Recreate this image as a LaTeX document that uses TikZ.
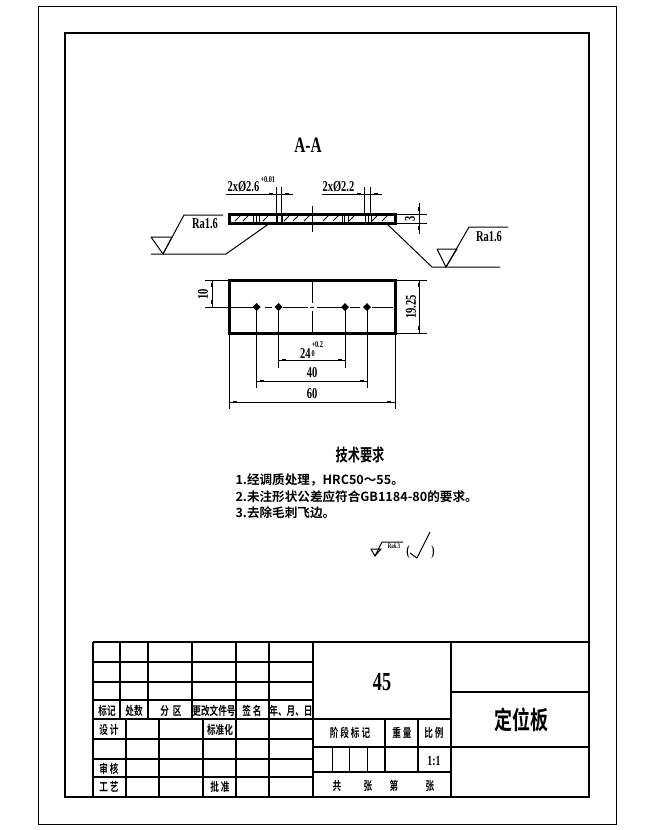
\documentclass[tikz,border=0pt]{standalone}
\usepackage{fontspec}
\usetikzlibrary{
  positioning,
}
\newfontfamily\cjkfont[FakeStretch=0.72,BoldFont={Noto Sans CJK SC Bold}]{Noto Sans CJK SC}
\newfontfamily\notefont[BoldFont={Noto Sans CJK SC Bold}]{Noto Sans CJK SC}
\newfontfamily\cadfont[FakeStretch=0.7]{Liberation Serif}
\newcommand{\cjksize} [1]{\fontsize{#1}{#1}\selectfont\cjkfont\bfseries}
\newcommand{\notesize}[1]{\fontsize{#1}{#1}\selectfont\notefont\bfseries}
\newcommand{\cadsize} [1]{\fontsize{#1}{#1}\selectfont\cadfont\bfseries}
% Small filled ticks on the dimension lines
\newcommand{\htick} [2]{\fill (#1,#2) +(-2,-1.2) rectangle +(2,1.2);}
\newcommand{\vtick} [2]{\fill (#1,#2) +(-1.2,-2) rectangle +(1.2,2);}
\def\mythin{1pt}
\def\mymid{1.5pt}
\def\myheavy{3pt}
\tikzset{
  line cap=rect,
  cad/.style={
    inner sep=0pt,
    font=\cadsize{15}
  },
  cad small/.style={
    inner sep=0pt,
    font=\cadsize{9}
  },
  cad up/.style={
    cad,
    rotate=90
  },
  label cn/.style={
    inner sep=0pt,
    font=\cjksize{12}
  },
  note cn/.style={
    inner sep=0pt,
    anchor=west,
    font=\notesize{12.6}
  },
  plate edge/.style={
    line width=\myheavy
  },
  grid mid/.style={
    line width=\mymid
  },
  hatch/.style={
    line width=0.8pt
  }
}
\begin{document}
\begin{tikzpicture}[x=1pt,y=-1pt,line width=\mythin]
\useasboundingbox (0,0) rectangle (654,830);
% Sheet frames
\draw (38.5,6) rectangle (616.5,824);
\draw[line width=2pt] (65,33) rectangle (589,797);

% Section A-A
\node[cad,font=\cadsize{22}] (title_section) at (308,145) {A-A};
\draw[plate edge] (229,214) rectangle (395,223);
\foreach \hx in {235,243,263,284,293,304,323,333,349,372,382}
  \draw[hatch] (\hx,221) -- (\hx+5,216);
\foreach \hx in {253.5,256.5,259,342,344,348,365,368,371}
  \draw (\hx,214) -- (\hx,223);
\draw[line width=1.6pt] (276.7,214) -- (276.7,223);
\draw[line width=1.6pt] (281.7,214) -- (281.7,223);
\draw (312.3,206) -- (312.3,232);
% Hole callouts
\draw (226,194) -- (293,194);
\draw (276.7,187) -- (276.7,214);
\draw (281.7,187) -- (281.7,214);
\htick{271}{194} \htick{287}{194}
\node[cad,anchor=south west] (hole_a) at (227,192) {2x\char"00D8 2.6};
\node[cad small,anchor=south west] (hole_a_tol) at (260,183) {+0.01};
\draw (322,194) -- (382,194);
\draw (364.5,187) -- (364.5,214);
\draw (370.5,187) -- (370.5,214);
\htick{359}{194} \htick{376}{194}
\node[cad,anchor=south west] (hole_b) at (322,192) {2x\char"00D8 2.2};
% Thickness
\draw (395,214) -- (427,214);
\draw (395,223) -- (427,223);
\draw (419,203) -- (419,234);
\vtick{419}{209} \vtick{419}{228}
\node[cad up] (dim_three) at (410,218.5) {3};
% Roughness marks
\draw (151,237) -- (172,237) -- (163,254) -- (151,237);
\draw (163,254) -- (184,215) -- (223,215);
\draw (151,254) -- (226,254) -- (270,223);
\node[cad] (rough_left) at (205,224) {Ra1.6};
\draw (437,249) -- (457,249) -- (446,267) -- (437,249);
\draw (446,267) -- (469,227) -- (508,227);
\draw (500,267) -- (432,267) -- (386,223);
\node[cad] (rough_right) at (489,237) {Ra1.6};

% Plan view
\draw[plate edge] (229,280) rectangle (395,333);
\draw (312,280) -- (312,303);
\draw (312,311) -- (312,333);
\draw (205,307) -- (253,307);
\draw (265,307) -- (272,307);
\draw (283,307) -- (308,307);
\draw (310,307) -- (314,307);
\draw (317,307) -- (342,307);
\draw (350,307) -- (360,307);
\draw (372,307) -- (393,307);
\foreach \hx in {256.7,278.7,345,367}
  \fill (\hx,303) -- (\hx+4,307) -- (\hx,311) -- (\hx-4,307) -- cycle;
% Dimensions of the plan view
\draw (205,280) -- (229,280);
\draw (212,280) -- (212,307);
\vtick{212}{285} \vtick{212}{302}
\node[cad up] (dim_ten) at (203,294) {10};
\draw (395,280) -- (427,280);
\draw (395,333) -- (427,333);
\draw (419,280) -- (419,333);
\vtick{419}{285} \vtick{419}{328}
\node[cad up] (dim_height) at (411,307) {19.25};
\draw (278.7,307) -- (278.7,368);
\draw (345,307) -- (345,368);
\draw (278.7,360) -- (345,360);
\htick{284}{360} \htick{340}{360}
\node[cad,anchor=south east] (dim_inner) at (311,359) {24};
\node[cad small,anchor=west] (dim_inner_up) at (311,345) {+0.2};
\node[cad small,anchor=west] (dim_inner_low) at (311,353.5) {0};
\draw (256.7,307) -- (256.7,388);
\draw (367,307) -- (367,388);
\draw (256.7,381) -- (367,381);
\htick{262}{381} \htick{362}{381}
\node[cad] (dim_forty) at (312,373) {40};
\draw (229,333) -- (229,409);
\draw (395,333) -- (395,409);
\draw (229,402) -- (395,402);
\htick{235}{402} \htick{389}{402}
\node[cad] (dim_sixty) at (312,394) {60};

% Notes
\node[label cn,font=\cjksize{17}] (note_title) at (360,455) {技术要求};
\node[note cn] (note_one) at (235,480) {1.经调质处理，HRC50\char"FF5E 55。};
\node[note cn] (note_two) at (235,496.5) {2.未注形状公差应符合GB1184-80的要求。};
\node[note cn] (note_three) at (235,513) {3.去除毛刺飞边。};
% Surface symbol
\draw (371,549) -- (381,549) -- (375,556) -- cycle;
\draw (375,556) -- (382,542) -- (403,542);
\node[inner sep=0pt,font=\cadsize{7}] (rough_small) at (394,546) {Ra6.3};
\node[cad,font=\cadsize{14}] (paren_left) at (408,552) {(};
\draw (410,553) -- (417,558) -- (430,532);
\node[cad,font=\cadsize{14}] (paren_right) at (433,552) {)};

% Title block, left part
\draw[grid mid] (93,642) -- (589,642);
\draw[grid mid] (93,642) -- (93,797);
\foreach \ry in {662,682,759,777}
  \draw[line width=1.2pt] (93,\ry) -- (313,\ry);
\foreach \ry in {700,719,739}
  \draw[grid mid] (93,\ry) -- (313,\ry);
\foreach \cx in {120,148,192}
  \draw[grid mid] (\cx,642) -- (\cx,719);
\foreach \cx in {126,159,203}
  \draw[grid mid] (\cx,719) -- (\cx,797);
\foreach \cx in {236,269,313}
  \draw[grid mid] (\cx,642) -- (\cx,797);
\node[label cn] (head_mark) at (107,711) {标记};
\node[label cn] (head_count) at (134,711) {处数};
\node[label cn] (head_zone) at (171,711) {分\ \ 区};
\node[label cn] (head_file) at (214,711) {更改文件号};
\node[label cn] (head_sign) at (252,711) {签\ 名};
\node[label cn] (head_date) at (291,711) {年、月、日};
\node[label cn] (row_design) at (109,730) {设\ 计};
\node[label cn] (row_std) at (220,730) {标准化};
\node[label cn] (row_check) at (109,769) {审\ 核};
\node[label cn] (row_craft) at (109,787) {工\ 艺};
\node[label cn] (row_appr) at (220,787) {批\ 准};

% Title block, right part
\draw[grid mid] (451,642) -- (451,797);
\draw[grid mid] (451,692) -- (589,692);
\draw[grid mid] (313,719) -- (451,719);
\draw[grid mid] (313,747) -- (589,747);
\draw[grid mid] (313,772) -- (451,772);
\draw[grid mid] (385,719) -- (385,772);
\draw[grid mid] (418,719) -- (418,772);
\foreach \cx in {332,349,367}
  \draw (\cx,747) -- (\cx,772);
\node[cad,font=\cadsize{26}] (material) at (382,682) {45};
\node[label cn,font=\cjksize{25}] (part_name) at (521,720) {定位板};
\node[label cn] (head_stage) at (350,733) {阶\ 段\ 标\ 记};
\node[label cn] (head_weight) at (402,733) {重\ 量};
\node[label cn] (head_scale) at (434,733) {比\ 例};
\node[cad,font=\cadsize{14}] (scale_val) at (434,761) {1:1};
\node[label cn] (sheet_a) at (337,786) {共};
\node[label cn] (sheet_b) at (368,786) {张};
\node[label cn] (sheet_c) at (394,786) {第};
\node[label cn] (sheet_d) at (430,786) {张};
\end{tikzpicture}
\end{document}
